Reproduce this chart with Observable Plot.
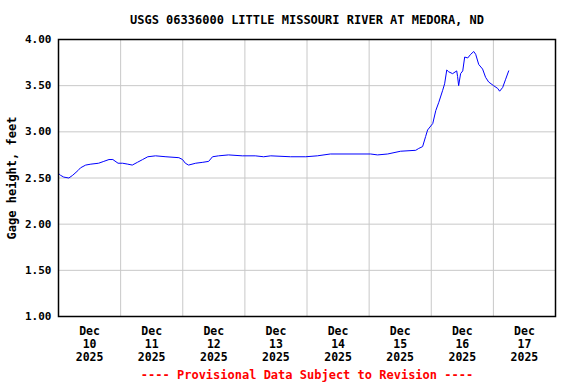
<!DOCTYPE html>
<html><head><meta charset="utf-8">
<script src="https://cdn.jsdelivr.net/npm/d3@7"></script>
<script src="https://cdn.jsdelivr.net/npm/@observablehq/plot@0.6"></script>
<style>body{margin:0;background:#fff} svg{display:block}</style>
</head><body><div id="chart"></div>
<script>
const title = "USGS 06336000 LITTLE MISSOURI RIVER AT MEDORA, ND";
const yLabel = "Gage height, feet";
const footer = "---- Provisional Data Subject to Revision ----";

const times = [
 "2025-12-10T00:00Z","2025-12-10T00:45Z","2025-12-10T02:00Z","2025-12-10T04:00Z","2025-12-10T05:30Z",
 "2025-12-10T07:30Z","2025-12-10T08:30Z","2025-12-10T10:30Z","2025-12-10T12:30Z","2025-12-10T15:30Z",
 "2025-12-10T17:30Z","2025-12-10T19:30Z","2025-12-10T21:00Z","2025-12-10T23:00Z","2025-12-11T00:45Z",
 "2025-12-11T02:45Z","2025-12-11T04:30Z","2025-12-11T06:30Z","2025-12-11T08:30Z","2025-12-11T10:30Z",
 "2025-12-11T13:30Z","2025-12-11T17:30Z","2025-12-11T22:30Z","2025-12-11T23:55Z","2025-12-12T01:00Z",
 "2025-12-12T02:15Z","2025-12-12T05:00Z","2025-12-12T07:45Z","2025-12-12T10:00Z","2025-12-12T11:30Z",
 "2025-12-12T13:50Z","2025-12-12T17:40Z","2025-12-12T23:00Z","2025-12-13T04:00Z","2025-12-13T07:15Z",
 "2025-12-13T10:00Z","2025-12-13T17:40Z","2025-12-13T23:30Z","2025-12-14T04:00Z","2025-12-14T09:00Z",
 "2025-12-14T17:00Z","2025-12-15T00:35Z","2025-12-15T03:15Z","2025-12-15T07:10Z","2025-12-15T12:10Z",
 "2025-12-15T18:00Z","2025-12-15T19:10Z","2025-12-15T20:40Z","2025-12-15T21:50Z","2025-12-15T22:35Z",
 "2025-12-16T00:35Z","2025-12-16T01:45Z","2025-12-16T02:55Z","2025-12-16T04:25Z","2025-12-16T05:10Z",
 "2025-12-16T06:00Z","2025-12-16T06:45Z","2025-12-16T08:15Z","2025-12-16T09:50Z","2025-12-16T10:10Z",
 "2025-12-16T10:35Z","2025-12-16T11:20Z","2025-12-16T12:10Z","2025-12-16T12:55Z","2025-12-16T14:05Z",
 "2025-12-16T15:15Z","2025-12-16T16:25Z","2025-12-16T17:10Z","2025-12-16T18:20Z","2025-12-16T19:50Z",
 "2025-12-16T21:00Z","2025-12-16T22:10Z","2025-12-17T00:05Z","2025-12-17T01:40Z","2025-12-17T02:25Z",
 "2025-12-17T03:35Z","2025-12-17T04:45Z","2025-12-17T05:55Z"
];
const heights = [
 2.55,2.53,2.51,2.50,2.53,
 2.58,2.61,2.64,2.65,2.66,
 2.68,2.70,2.70,2.66,2.66,
 2.65,2.64,2.67,2.70,2.73,
 2.74,2.73,2.72,2.70,2.66,
 2.64,2.66,2.67,2.68,2.73,
 2.74,2.75,2.74,2.74,2.73,
 2.74,2.73,2.73,2.74,2.76,
 2.76,2.76,2.75,2.76,2.79,
 2.80,2.82,2.84,2.95,3.02,
 3.09,3.23,3.32,3.45,3.52,
 3.67,3.65,3.63,3.66,3.60,
 3.50,3.63,3.66,3.81,3.80,
 3.84,3.87,3.84,3.73,3.68,
 3.59,3.54,3.50,3.47,3.44,
 3.48,3.57,3.66
];

const xTickDates = ["2025-12-10T12:00Z","2025-12-11T12:00Z","2025-12-12T12:00Z","2025-12-13T12:00Z",
 "2025-12-14T12:00Z","2025-12-15T12:00Z","2025-12-16T12:00Z","2025-12-17T12:00Z"];
const xTickLabels = ["Dec\n10\n2025","Dec\n11\n2025","Dec\n12\n2025","Dec\n13\n2025",
 "Dec\n14\n2025","Dec\n15\n2025","Dec\n16\n2025","Dec\n17\n2025"];
const xGridDates = ["2025-12-11T00:00Z","2025-12-12T00:00Z","2025-12-13T00:00Z","2025-12-14T00:00Z",
 "2025-12-15T00:00Z","2025-12-16T00:00Z","2025-12-17T00:00Z"];
const yTicks = [1.0,1.5,2.0,2.5,3.0,3.5,4.0];
const yTickLabels = ["1.00","1.50","2.00","2.50","3.00","3.50","4.00"];
const yGrid = [1.5,2.0,2.5,3.0,3.5];

const data = times.map((t,i) => ({date: new Date(t), value: heights[i]}));
const xLabelMap = new Map(xTickDates.map((d,i) => [+new Date(d), xTickLabels[i]]));
const yLabelMap = new Map(yTicks.map((d,i) => [d, yTickLabels[i]]));

const chart = Plot.plot({
  width: 576, height: 384,
  marginTop: 39, marginBottom: 68, marginLeft: 58, marginRight: 21,
  style: {fontFamily: "DejaVu Sans Mono", fontWeight: "bold", fontSize: "11px", background: "#fff", color: "black"},
  x: {type: "utc", domain: [new Date("2025-12-10T00:00Z"), new Date("2025-12-18T00:00Z")]},
  y: {domain: [1, 4]},
  marks: [
    Plot.gridX(xGridDates.map(d => new Date(d)), {stroke: "#c8c8c8", strokeOpacity: 1}),
    Plot.gridY(yGrid, {stroke: "#c8c8c8", strokeOpacity: 1}),
    Plot.lineY(data, {x: "date", y: "value", stroke: "#0000ff", strokeWidth: 1}),
    Plot.frame({stroke: "black", strokeWidth: 1.5}),
    Plot.axisY(yTicks, {tickSize: 0, tickPadding: 7, tickFormat: d => yLabelMap.get(d), label: null, fontSize: 11}),
    Plot.axisX(xTickDates.map(d => new Date(d)), {tickSize: 0, tickPadding: 9, tickFormat: d => xLabelMap.get(+d), label: null, lineHeight: 1.13, fontSize: 11.5}),
    Plot.text([title], {frameAnchor: "top", lineAnchor: "middle", dy: -19, fontSize: 12, fill: "black"}),
    Plot.text([footer], {frameAnchor: "bottom", lineAnchor: "middle", dy: 59, fontSize: 12, fill: "red"}),
    Plot.text([yLabel], {frameAnchor: "left", textAnchor: "middle", lineAnchor: "middle", dx: -46, rotate: -90, fontSize: 12, fill: "black"})
  ]
});
document.getElementById("chart").appendChild(chart);
</script>
</body></html>
